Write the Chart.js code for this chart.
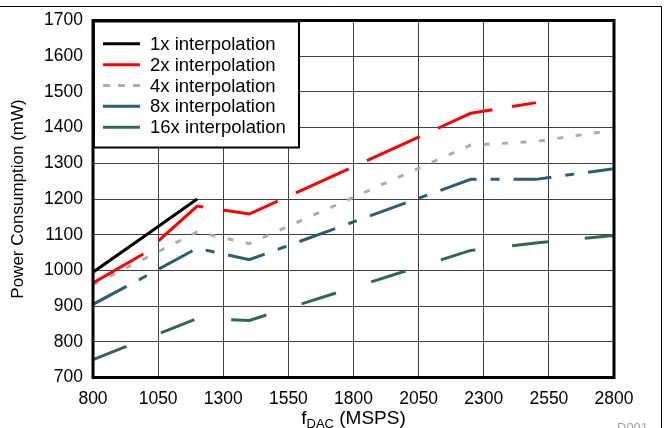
<!DOCTYPE html>
<html>
<head>
<meta charset="utf-8">
<script src="https://cdn.jsdelivr.net/npm/chart.js@4"></script>
<style>
  html, body { margin: 0; padding: 0; background: #fff; }
  canvas { display: block; }
</style>
</head>
<body>
<canvas id="powerChart" width="669" height="428"></canvas>
<script>
// fDAC (MSPS) points where the curves change slope
const fdac = [800, 1000, 1200, 1400, 2250, 2500, 2800];

// Power consumption (mW) per interpolation mode
const interp1x = [995, 1097, 1200, null, null, null, null];
const interp2x = [965, 1049, 1180, 1158, 1440, 1470, null];
const interp4x = [960, 1034, 1108, 1075, 1351, 1361, 1393];
const interp8x = [905, 983, 1062, 1030, 1255, 1255, 1285];
const interp16x = [750, 808, 865, 860, 1056, 1077, 1098];

const seriesLabels = ['1x interpolation', '2x interpolation', '4x interpolation', '8x interpolation', '16x interpolation'];
const xTicks = [800, 1050, 1300, 1550, 1800, 2050, 2300, 2550, 2800];
const yTicks = [700, 800, 900, 1000, 1100, 1200, 1300, 1400, 1500, 1600, 1700];

const FONT = "'Liberation Sans', Arial, sans-serif";

function puntos(valores) {
    const out = [];
    valores.forEach(function(v, i) {
        if (v !== null) out.push({ x: fdac[i], y: v });
    });
    return out;
}

function serie(label, valores, color, dash, legendDash) {
    return {
        label: label,
        data: puntos(valores),
        borderColor: color,
        backgroundColor: color,
        borderWidth: 3,
        borderDash: dash,
        legendDash: legendDash,
        pointRadius: 0,
        tension: 0,
        fill: false
    };
}

// Leyenda, marco y títulos dibujados a mano
const decoracion = {
    id: 'decoracion',
    afterDatasetsDraw(chart) {
        const ctx = chart.ctx;
        const a = chart.chartArea;
        ctx.save();

        // caja de leyenda
        ctx.fillStyle = '#fff';
        ctx.fillRect(a.left, a.top, 206, 127);
        ctx.strokeStyle = '#000';
        ctx.lineWidth = 2;
        ctx.strokeRect(a.left + 1, a.top + 1, 205, 126);

        ctx.font = '18.5px ' + FONT;
        ctx.textBaseline = 'middle';
        ctx.textAlign = 'left';
        chart.data.datasets.forEach(function(ds, i) {
            const y = a.top + 23.3 + i * 20.85;
            ctx.beginPath();
            ctx.setLineDash(ds.legendDash);
            ctx.strokeStyle = ds.borderColor;
            ctx.lineWidth = 3;
            ctx.moveTo(a.left + 10, y);
            ctx.lineTo(a.left + 47, y);
            ctx.stroke();
            ctx.setLineDash([]);
            ctx.fillStyle = '#000';
            ctx.fillText(ds.label, a.left + 57, y + 1);
        });

        // borde del área de trazado
        ctx.strokeStyle = '#000';
        ctx.lineWidth = 3;
        ctx.strokeRect(a.left, a.top, a.right - a.left, a.bottom - a.top);

        // marco de la figura
        ctx.lineWidth = 1;
        ctx.beginPath();
        ctx.moveTo(0, 6.5);
        ctx.lineTo(661.5, 6.5);
        ctx.lineTo(661.5, 428);
        ctx.stroke();

        // título eje Y
        ctx.fillStyle = '#000';
        ctx.save();
        ctx.translate(18, (a.top + a.bottom) / 2);
        ctx.rotate(-Math.PI / 2);
        ctx.font = '17px ' + FONT;
        ctx.textAlign = 'center';
        ctx.textBaseline = 'middle';
        ctx.fillText('Power Consumption (mW)', 0, 0);
        ctx.restore();

        // título eje X con subíndice
        ctx.textBaseline = 'alphabetic';
        ctx.textAlign = 'left';
        const big = '19px ' + FONT;
        const small = '13px ' + FONT;
        ctx.font = big;
        const wf = ctx.measureText('f').width;
        const wr = ctx.measureText(' (MSPS)').width;
        ctx.font = small;
        const ws = ctx.measureText('DAC').width;
        let x = (a.left + a.right) / 2 - (wf + ws + wr) / 2;
        const base = 424;
        ctx.font = big;
        ctx.fillText('f', x, base);
        x += wf;
        ctx.font = small;
        ctx.fillText('DAC', x, base + 4);
        x += ws;
        ctx.font = big;
        ctx.fillText(' (MSPS)', x, base);

        // referencia de figura
        ctx.fillStyle = '#a0a0a0';
        ctx.font = '13px ' + FONT;
        ctx.fillText('D001', 617, 432);

        ctx.restore();
    }
};

const chart = new Chart(document.getElementById('powerChart').getContext('2d'), {
    type: 'line',
    data: {
        datasets: [
            serie(seriesLabels[0], interp1x, '#000000', [], []),
            serie(seriesLabels[1], interp2x, '#ff0000', [58, 20], []),
            serie(seriesLabels[2], interp4x, '#adadad', [6, 12.5], [7, 8]),
            serie(seriesLabels[3], interp8x, '#2b5c78', [38, 14, 9, 14], []),
            serie(seriesLabels[4], interp16x, '#2e6b4c', [36, 37], [])
        ]
    },
    options: {
        responsive: false,
        animation: false,
        layout: { padding: { left: 0, top: 20, right: 55, bottom: 0 } },
        plugins: {
            legend: { display: false },
            tooltip: { enabled: false }
        },
        scales: {
            x: {
                type: 'linear',
                min: 800,
                max: 2800,
                afterFit: function(s) { s.height = 50.5; },
                afterBuildTicks: function(s) { s.ticks = xTicks.map(v => ({ value: v })); },
                grid: { color: '#404040', lineWidth: 1, drawTicks: false },
                border: { display: false },
                ticks: {
                    color: '#000', padding: 11, maxRotation: 0,
                    font: { family: FONT, size: 17.5 },
                    callback: function(value) { return String(value); }
                }
            },
            y: {
                min: 700,
                max: 1700,
                afterFit: function(s) { s.width = 93; },
                afterBuildTicks: function(s) { s.ticks = yTicks.map(v => ({ value: v })); },
                grid: { color: '#404040', lineWidth: 1, drawTicks: false },
                border: { display: false },
                ticks: {
                    color: '#000', padding: 10,
                    font: { family: FONT, size: 17.5 },
                    callback: function(value) { return String(value); }
                }
            }
        }
    },
    plugins: [decoracion]
});
</script>
</body>
</html>
